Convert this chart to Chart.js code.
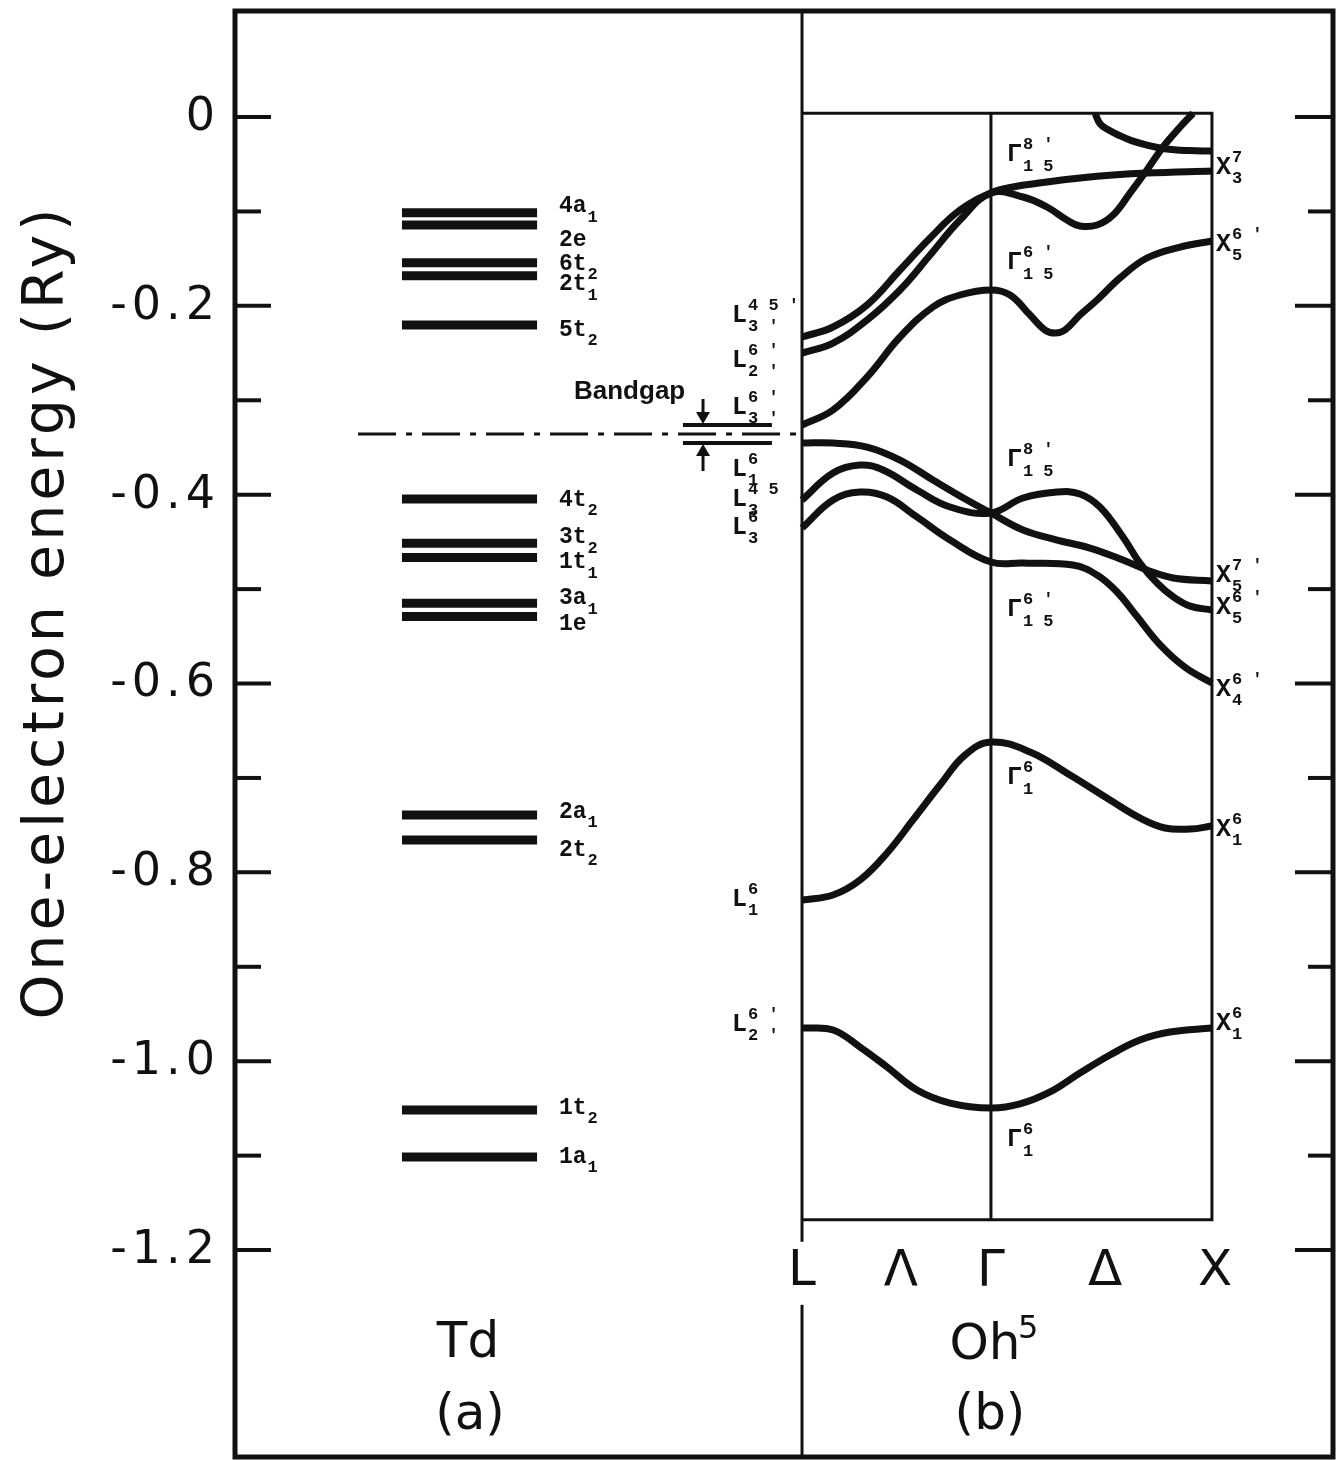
<!DOCTYPE html>
<html><head><meta charset="utf-8">
<script src="https://cdn.jsdelivr.net/npm/chart.js@4.4.1/dist/chart.umd.min.js"></script>
<style>html,body{margin:0;padding:0;background:#fff}#wrap{width:1340px;height:1460px}</style>
</head><body><div id="wrap"><canvas id="c" width="1340" height="1460"></canvas></div>
<script>
// ---------------- DATA ----------------
// y axis ticks (Ry)
const yTickValues = [0,-0.1,-0.2,-0.3,-0.4,-0.5,-0.6,-0.7,-0.8,-0.9,-1.0,-1.1,-1.2];
const yTickLabels = ['0','','-0.2','','-0.4','','-0.6','','-0.8','','-1.0','','-1.2'];
const yTitle = 'One-electron energy (Ry)';

// (a) Td molecular levels
const levelNames = ['4a','2e','6t','2t','5t','4t','3t','1t','3a','1e','2a','2t','1t','1a'];
const levelSubs  = ['1','','2','1','2','2','2','1','1','','1','2','2','1'];
const levelE     = [-0.1013,-0.1144,-0.1543,-0.1680,-0.2203,-0.4046,-0.4515,-0.4664,-0.5150,-0.5290,-0.7392,-0.7658,-1.0517,-1.1015];

// (b) band structure, k along L -> Gamma -> X
const kSymPoints = ['L','Λ','Γ','Δ','X'];
const kSymValues = [0, 0.45, 0.86, 1.38, 1.88];
const kL = 0, kG = 0.86, kX = 1.866;
const boxTopE = 0.004, boxBottomE = -1.168;

const bandC4 = [[1.334,0.004],[1.356,-0.0070],[1.390,-0.0130],[1.440,-0.0190],[1.500,-0.0250],[1.570,-0.0297],[1.650,-0.0335],[1.760,-0.0355],[1.866,-0.0360]];
const bandC3 = [[0,-0.2330],[0.141,-0.2224],[0.296,-0.1991],[0.446,-0.1620],[0.583,-0.1281],[0.719,-0.0985],[0.86,-0.0805],[0.960,-0.0741],[1.115,-0.0688],[1.265,-0.0646],[1.416,-0.0614],[1.570,-0.0593],[1.866,-0.0572]];
const bandC2 = [[0,-0.2500],[0.141,-0.2394],[0.296,-0.2150],[0.446,-0.1832],[0.583,-0.1462],[0.719,-0.1091],[0.86,-0.0805],[1.006,-0.0847],[1.115,-0.0953],[1.206,-0.1091],[1.265,-0.1154],[1.343,-0.1144],[1.416,-0.1038],[1.493,-0.0805],[1.570,-0.0561],[1.643,-0.0318],[1.721,-0.0106],[1.780,0.004]];
const bandC1 = [[0,-0.3262],[0.141,-0.3103],[0.296,-0.2754],[0.446,-0.2330],[0.596,-0.2012],[0.719,-0.1885],[0.86,-0.1832],[0.947,-0.1885],[1.038,-0.2097],[1.106,-0.2256],[1.152,-0.2288],[1.197,-0.2256],[1.265,-0.2097],[1.343,-0.1938],[1.447,-0.1705],[1.570,-0.1493],[1.721,-0.1377],[1.866,-0.1313]];
const bandV1 = [[0,-0.3453],[0.141,-0.3453],[0.296,-0.3495],[0.446,-0.3633],[0.596,-0.3844],[0.751,-0.4056],[0.86,-0.4194],[1.006,-0.4374],[1.161,-0.4480],[1.311,-0.4565],[1.461,-0.4692],[1.570,-0.4798],[1.689,-0.4882],[1.866,-0.4914]];
const bandV2 = [[0,-0.4056],[0.141,-0.3770],[0.264,-0.3686],[0.369,-0.3739],[0.523,-0.3950],[0.674,-0.4130],[0.86,-0.4194],[1.006,-0.4035],[1.161,-0.3972],[1.265,-0.3992],[1.356,-0.4130],[1.461,-0.4448],[1.538,-0.4724],[1.616,-0.4935],[1.689,-0.5080],[1.767,-0.5180],[1.866,-0.5221]];
const bandV3 = [[0,-0.4353],[0.141,-0.4056],[0.264,-0.3972],[0.387,-0.4025],[0.523,-0.4236],[0.674,-0.4480],[0.86,-0.4713],[1.006,-0.4724],[1.233,-0.4745],[1.343,-0.4850],[1.434,-0.5030],[1.525,-0.5290],[1.630,-0.5590],[1.745,-0.5830],[1.866,-0.5994]];
const bandV4 = [[0,-0.8293],[0.141,-0.8240],[0.264,-0.8081],[0.387,-0.7795],[0.505,-0.7445],[0.628,-0.7075],[0.742,-0.6757],[0.86,-0.6619],[1.038,-0.6725],[1.220,-0.6969],[1.402,-0.7234],[1.538,-0.7424],[1.652,-0.7530],[1.767,-0.7541],[1.866,-0.7509]];
const bandV5 = [[0,-0.9648],[0.141,-0.9669],[0.264,-0.9850],[0.387,-1.0061],[0.523,-1.0305],[0.674,-1.0443],[0.86,-1.0496],[0.992,-1.0453],[1.129,-1.0326],[1.265,-1.0125],[1.402,-0.9934],[1.538,-0.9775],[1.675,-0.9691],[1.866,-0.9648]];
const bands = [bandC4,bandC3,bandC2,bandC1,bandV1,bandV2,bandV3,bandV4,bandV5];

// symmetry labels: [main, superscript, subscript, energy]
const labelsL = [['L',"4 5 '","3 '",-0.2108],['L',"6 '","2 '",-0.2584],['L',"6 '","3 '",-0.3082],['L','6','1',-0.3739],['L','4 5','3',-0.4056],['L','6','3',-0.4353],['L','6','1',-0.8293],['L',"6 '","2 '",-0.9617]];
const labelsG = [['Γ',"8 '",'1 5',-0.0402],['Γ',"6 '",'1 5',-0.1546],['Γ',"8 '",'1 5',-0.3633],['Γ',"6 '",'1 5',-0.5221],['Γ','6','1',-0.7001],['Γ','6','1',-1.0835]];
const labelsX = [['X','7','3',-0.0540],['X',"6 '","5",-0.1356],['X',"7 '","5",-0.4861],['X',"6 '","5",-0.5200],['X',"6 '","4",-0.6069],['X','6','1',-0.7551],['X','6','1',-0.9606]];

// ---------------- LAYOUT / STYLE ----------------
const INK = '#111';
const LEVEL_K0 = -1.821, LEVEL_K1 = -1.206;           // x-extent of the Td level bars
const GAP_K0 = -0.542, GAP_K1 = -0.137, ARROW_K = -0.4506;
const MIDGAP_K0 = -2.021;
const levelLabelDy = [-6,15,1,9,5,1,-6,5,-5,8,-3,10,-2,0];

const ds = [];
bands.forEach(b => ds.push({data:b.map(p=>({x:p[0],y:p[1]})), showLine:true, borderColor:INK, borderWidth:7,
  pointRadius:0, tension:0.4, borderCapStyle:'butt', borderJoinStyle:'round'}));
levelE.forEach(e => ds.push({data:[{x:LEVEL_K0,y:e},{x:LEVEL_K1,y:e}], showLine:true, borderColor:INK, borderWidth:9, pointRadius:0}));
const Ec = bandC1[0][1], Ev = bandV1[0][1], Emid = (Ec+Ev)/2;
ds.push({data:[{x:GAP_K0,y:Ec},{x:GAP_K1,y:Ec}], showLine:true, borderColor:INK, borderWidth:4, pointRadius:0});
ds.push({data:[{x:GAP_K0,y:Ev},{x:GAP_K1,y:Ev}], showLine:true, borderColor:INK, borderWidth:4, pointRadius:0});
ds.push({data:[{x:MIDGAP_K0,y:Emid},{x:kL,y:Emid}], showLine:true, borderColor:INK, borderWidth:3, pointRadius:0, borderDash:[38,10,6,10]});

function sym(ctx,x,y,main,sup,sub,mf,sf,supDy,subDy){
  ctx.font = mf; ctx.textAlign='left'; ctx.textBaseline='middle';
  ctx.fillText(main,x,y);
  const w = ctx.measureText(main).width;
  ctx.font = sf;
  if (sup) ctx.fillText(sup,x+w+1,y-supDy);
  if (sub) ctx.fillText(sub,x+w+1,y+subDy);
}

const deco = {
  id:'deco',
  beforeDraw(chart){ const c=chart.ctx; c.save(); c.fillStyle='#fff'; c.fillRect(0,0,chart.width,chart.height); c.restore(); },
  afterDraw(chart){
    const c = chart.ctx, X = chart.scales.x, Y = chart.scales.y, A = chart.chartArea;
    const px = v => X.getPixelForValue(v), py = v => Y.getPixelForValue(v);
    c.save();
    c.strokeStyle = INK; c.fillStyle = INK; c.lineCap='butt';
    // outer frame
    c.lineWidth = 5; c.strokeRect(A.left, A.top, A.right-A.left, A.bottom-A.top);
    // ticks on both sides
    Y.ticks.forEach((t,i) => {
      const yy = py(t.value), major = yTickLabels[i] !== '';
      c.lineWidth = 4;
      c.beginPath(); c.moveTo(A.left, yy); c.lineTo(A.left + (major?36:26), yy); c.stroke();
      c.beginPath(); c.moveTo(A.right, yy); c.lineTo(A.right - (major?38:25), yy); c.stroke();
      if (major) {
        c.font = '46px "DejaVu Sans"'; c.textAlign='right'; c.textBaseline='middle';
        c.letterSpacing = '5px';
        c.fillText(yTickLabels[i], 220, yy+1);
        c.letterSpacing = '0px';
      }
    });
    // y title
    c.save(); c.translate(48, 612); c.rotate(-Math.PI/2);
    c.font = '57px "DejaVu Sans"'; c.textAlign='center'; c.textBaseline='middle';
    c.letterSpacing = '4px';
    c.fillText(yTitle, 0, 0); c.restore();
    // divider / band box
    const xl = px(kL), xr = px(kX), xg = px(kG), yt = py(boxTopE), yb = py(boxBottomE);
    c.lineWidth = 3;
    c.beginPath(); c.moveTo(xl, A.top); c.lineTo(xl, yb+22); c.stroke();
    c.beginPath(); c.moveTo(xl, yb+85); c.lineTo(xl, A.bottom); c.stroke();
    c.beginPath(); c.moveTo(xl, yt); c.lineTo(xr, yt); c.lineTo(xr, yb); c.lineTo(xl, yb); c.stroke();
    c.beginPath(); c.moveTo(xg, yt); c.lineTo(xg, yb); c.stroke();
    // bandgap arrows
    const xa = px(ARROW_K), yc = py(Ec), yv = py(Ev);
    c.lineWidth = 3;
    c.beginPath(); c.moveTo(xa, yc-26); c.lineTo(xa, yc-8); c.stroke();
    c.beginPath(); c.moveTo(xa-7, yc-13); c.lineTo(xa+7, yc-13); c.lineTo(xa, yc-1); c.closePath(); c.fill();
    c.beginPath(); c.moveTo(xa, yv+28); c.lineTo(xa, yv+8); c.stroke();
    c.beginPath(); c.moveTo(xa-7, yv+13); c.lineTo(xa+7, yv+13); c.lineTo(xa, yv+1); c.closePath(); c.fill();
    c.font = 'bold 26px "Liberation Sans"'; c.textAlign='left'; c.textBaseline='middle';
    c.fillText('Bandgap', 574, yc-33);
    // level labels
    const mf = 'bold 23px "Liberation Mono"', sf = 'bold 17px "Liberation Mono"';
    levelNames.forEach((n,i) => sym(c, 559, py(levelE[i]) + levelLabelDy[i], n, '', levelSubs[i], mf, sf, 0, 11));
    // symmetry labels
    const bm = 'bold 25px "Liberation Mono"', bs = 'bold 17px "Liberation Mono"';
    labelsL.forEach(l => sym(c, 732, py(l[3]), l[0], l[1], l[2], bm, bs, 10, 11));
    labelsG.forEach(l => sym(c, xg+16, py(l[3]), l[0], l[1], l[2], bm, bs, 10, 12));
    labelsX.forEach(l => sym(c, xr+4, py(l[3]), l[0], l[1], l[2], bm, bs, 10, 11));
    // k-path labels
    c.font = '50px "DejaVu Sans"'; c.textAlign='center'; c.textBaseline='middle';
    kSymPoints.forEach((s,i) => c.fillText(s, px(kSymValues[i]), yb+52));
    // panel captions
    c.fillText('Td', 468, 1344);
    c.fillText('(a)', 470, 1416);
    c.fillText('Oh', 985, 1346);
    c.font = '32px "DejaVu Sans"'; c.textAlign='left'; c.fillText('5', 1018, 1330);
    c.font = '50px "DejaVu Sans"'; c.textAlign='center';
    c.fillText('(b)', 990, 1416);
    c.restore();
  }
};

new Chart(document.getElementById('c'), {
  type:'scatter',
  data:{datasets:ds},
  options:{
    responsive:false, animation:false, devicePixelRatio:1,
    layout:{padding:{left:235, top:11, right:7, bottom:3}},
    plugins:{legend:{display:false}, tooltip:{enabled:false}},
    scales:{
      x:{type:'linear', display:false, min:-2.581, max:2.417},
      y:{type:'linear', display:false, min:-1.4192, max:0.1123,
         afterBuildTicks: s => { s.ticks = yTickValues.map(v => ({value:v})); }}
    }
  },
  plugins:[deco]
});
</script></body></html>
